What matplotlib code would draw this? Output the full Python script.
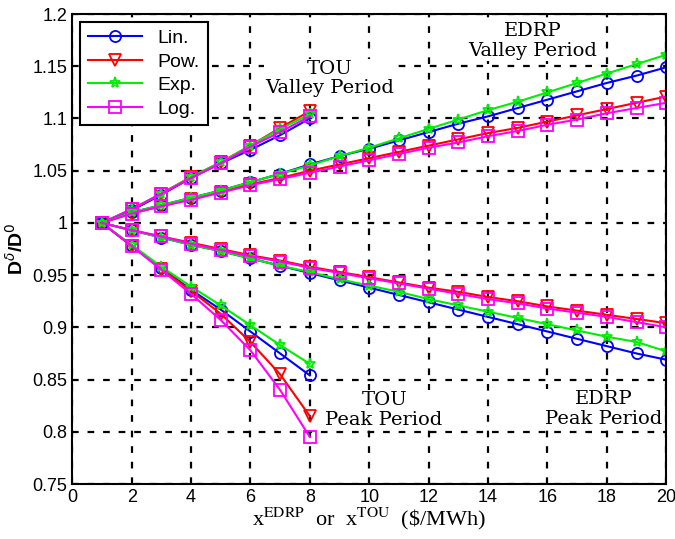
import numpy as np
import matplotlib
matplotlib.use("Agg")
import matplotlib.pyplot as plt
from matplotlib.ticker import FuncFormatter

# price steps
x_tou = [1, 2, 3, 4, 5, 6, 7, 8]
x_edrp = list(range(1, 21))

# TOU valley period
tou_valley_lin = [1.0, 1.012, 1.027, 1.043, 1.057, 1.070, 1.084, 1.100]
tou_valley_pow = [1.0, 1.013, 1.028, 1.044, 1.058, 1.074, 1.091, 1.107]
tou_valley_exp = [1.0, 1.013, 1.028, 1.044, 1.058, 1.074, 1.090, 1.104]
tou_valley_log = [1.0, 1.013, 1.028, 1.043, 1.057, 1.073, 1.087, 1.102]

# TOU peak period
tou_peak_lin = [1.0, 0.978, 0.957, 0.936, 0.917, 0.896, 0.875, 0.854]
tou_peak_pow = [1.0, 0.978, 0.956, 0.935, 0.913, 0.886, 0.855, 0.815]
tou_peak_exp = [1.0, 0.979, 0.958, 0.939, 0.921, 0.902, 0.883, 0.865]
tou_peak_log = [1.0, 0.978, 0.955, 0.932, 0.907, 0.878, 0.840, 0.795]

# EDRP valley period
edrp_valley_lin = [1.0, 1.010, 1.017, 1.024, 1.031, 1.039, 1.047, 1.056, 1.064, 1.071,
                   1.079, 1.087, 1.095, 1.102, 1.110, 1.118, 1.126, 1.134, 1.141, 1.149]
edrp_valley_pow = [1.0, 1.009, 1.016, 1.023, 1.030, 1.037, 1.043, 1.050, 1.056, 1.062,
                   1.068, 1.074, 1.080, 1.086, 1.091, 1.097, 1.103, 1.109, 1.115, 1.121]
edrp_valley_exp = [1.0, 1.010, 1.017, 1.024, 1.031, 1.039, 1.047, 1.055, 1.064, 1.072,
                   1.081, 1.090, 1.099, 1.108, 1.116, 1.125, 1.134, 1.143, 1.152, 1.161]
edrp_valley_log = [1.0, 1.009, 1.016, 1.022, 1.029, 1.036, 1.042, 1.048, 1.054, 1.060,
                   1.066, 1.072, 1.077, 1.083, 1.088, 1.094, 1.099, 1.105, 1.110, 1.115]

# EDRP peak period
edrp_peak_lin = [1.0, 0.993, 0.986, 0.979, 0.973, 0.966, 0.959, 0.952, 0.945, 0.938,
                 0.931, 0.924, 0.917, 0.910, 0.903, 0.896, 0.889, 0.882, 0.875, 0.869]
edrp_peak_pow = [1.0, 0.993, 0.987, 0.981, 0.975, 0.969, 0.964, 0.958, 0.953, 0.948,
                 0.943, 0.938, 0.934, 0.929, 0.925, 0.920, 0.916, 0.912, 0.908, 0.904]
edrp_peak_exp = [1.0, 0.993, 0.986, 0.979, 0.973, 0.966, 0.959, 0.953, 0.946, 0.940,
                 0.934, 0.927, 0.921, 0.915, 0.909, 0.903, 0.897, 0.891, 0.886, 0.877]
edrp_peak_log = [1.0, 0.993, 0.987, 0.980, 0.974, 0.968, 0.963, 0.957, 0.952, 0.947,
                 0.942, 0.937, 0.932, 0.927, 0.923, 0.918, 0.914, 0.910, 0.905, 0.900]

labels = ["Lin.", "Pow.", "Exp.", "Log."]
colors = ["#0000ff", "#ff0000", "#00ee00", "#ff00ff"]
markers = ["o", "v", "*", "s"]

groups = [
    (x_tou, [tou_valley_lin, tou_valley_pow, tou_valley_exp, tou_valley_log]),
    (x_tou, [tou_peak_lin, tou_peak_pow, tou_peak_exp, tou_peak_log]),
    (x_edrp, [edrp_valley_lin, edrp_valley_pow, edrp_valley_exp, edrp_valley_log]),
    (x_edrp, [edrp_peak_lin, edrp_peak_pow, edrp_peak_exp, edrp_peak_log]),
]

plt.rcParams['font.family'] = ['Liberation Sans', 'DejaVu Sans']

fig = plt.figure(figsize=(6.75, 5.39), dpi=100)
ax = fig.add_axes([0.107, 0.102, 0.88, 0.872])

for gi, (xs, series) in enumerate(groups):
    for i, ys in enumerate(series):
        ax.plot(xs, ys, color=colors[i], marker=markers[i], markersize=8,
                markerfacecolor="none", markeredgecolor=colors[i], markeredgewidth=1.3,
                linewidth=1.5, label=labels[i] if gi == 0 else None)

ax.set_xlim(0, 20)
ax.set_ylim(0.75, 1.2)
ax.set_xticks(range(0, 21, 2))
ax.set_yticks(np.arange(0.75, 1.2001, 0.05))
ax.yaxis.set_major_formatter(FuncFormatter(lambda v, p: "%g" % round(v, 2)))
ax.tick_params(direction="in", labelsize=13, length=4, width=1.2)
ax.grid(True, color="black", linestyle=(0, (3, 4)), linewidth=1.6)
for s in ax.spines.values():
    s.set_linewidth(1.5)

ax.set_xlabel(r"x$^{\rm EDRP}$  or  x$^{\rm TOU}$  (\$/MWh)", family="Liberation Serif",
              math_fontfamily="stix", fontsize=16, labelpad=0)
ax.set_ylabel(r"D$^{\delta}$/D$^{0}$", family="Liberation Sans", fontsize=14, fontweight="bold")

txt_kw = dict(family="DejaVu Serif", fontsize=14, ha="center", va="center", linespacing=1.1,
              bbox=dict(facecolor="white", edgecolor="none", pad=0.5))
ax.text(8.65, 1.138, "TOU\nValley Period", **txt_kw)
ax.text(15.5, 1.174, "EDRP\nValley Period", **txt_kw)
ax.text(10.5, 0.821, "TOU\nPeak Period", **txt_kw)
ax.text(17.9, 0.822, "EDRP\nPeak Period", **txt_kw)

leg = ax.legend(loc="upper left", fontsize=14, fancybox=False, framealpha=1,
                edgecolor="black", handlelength=2.8, borderaxespad=0.4, labelspacing=0.3)
leg.get_frame().set_linewidth(1.5)

fig.savefig("out.png", dpi=100)
